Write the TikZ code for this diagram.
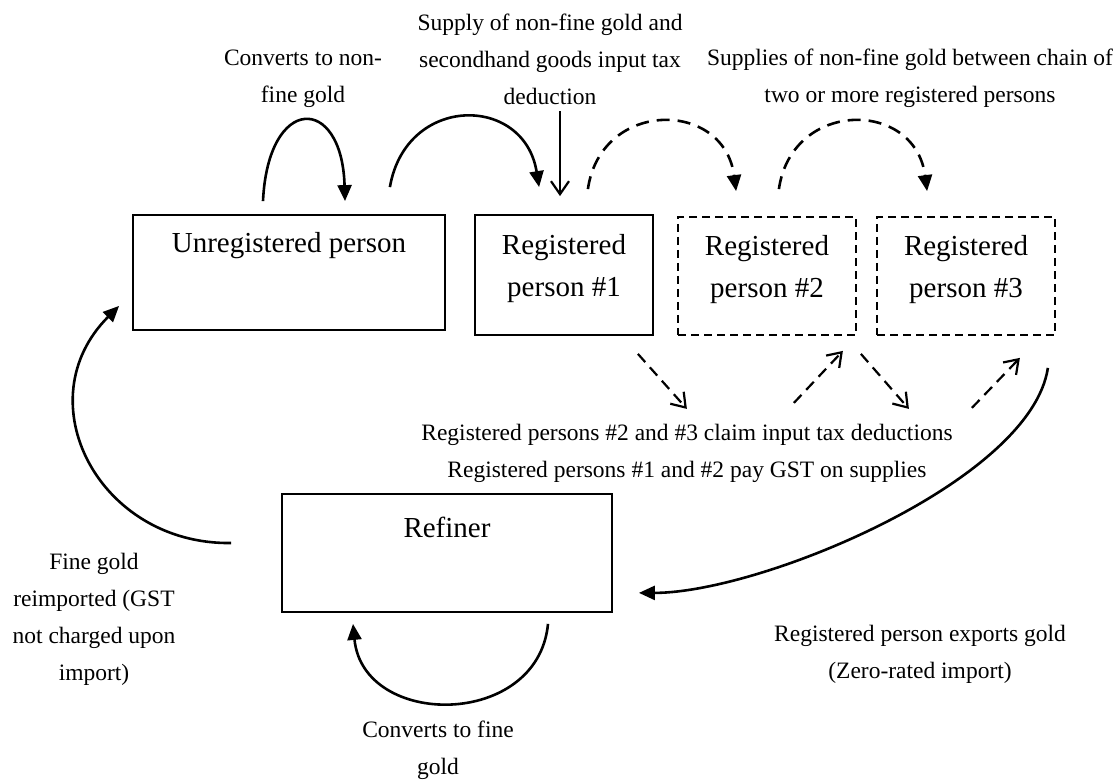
\documentclass[tikz,border=0pt]{standalone}
\usepackage{fontspec}
\setmainfont{Liberation Serif}
\usetikzlibrary{arrows.meta,calc}
\begin{document}
\begin{tikzpicture}[x=1pt,y=-1pt,
  box/.style={draw, line width=1.8pt, inner sep=0pt},
  dbox/.style={box, dash pattern=on 8pt off 5pt},
  lbl/.style={font=\fontsize{29}{42}\selectfont, align=center, anchor=center, inner sep=0pt},
  txt/.style={font=\fontsize{23.5}{37}\selectfont, align=center, inner sep=0pt},
  solidarr/.style={line width=2.6pt, -{Triangle[length=16pt,width=14pt]}},
  dasharr/.style={solidarr, dash pattern=on 13pt off 8pt},
  openarr/.style={line width=2.2pt, -{Straight Barb[length=13pt,width=18pt]}},
  dopenarr/.style={openarr, dash pattern=on 11pt off 7pt}
]
\useasboundingbox (0,0) rectangle (1120,783);

% boxes
\node[box, minimum width=312pt, minimum height=115pt,
  label={[lbl, yshift=-31pt]north:Unregistered person}] (U) at (289,272.5) {};
\node[box, minimum width=178pt, minimum height=120pt,
  label={[lbl, yshift=-54pt]north:Registered\\person \#1}] (R1) at (564,275) {};
\node[dbox, minimum width=178pt, minimum height=118pt,
  label={[lbl, yshift=-53pt]north:Registered\\person \#2}] (R2) at (767,276) {};
\node[dbox, minimum width=178pt, minimum height=118pt,
  label={[lbl, yshift=-53pt]north:Registered\\person \#3}] (R3) at (966,276) {};
\node[box, minimum width=330pt, minimum height=118pt,
  label={[lbl, yshift=-34pt]north:Refiner}] (R) at (447,553) {};

% captions
\node[txt] (c1) at (303,78.5) {Converts to non-\\fine gold};
\node[txt] (c2) at (550,59.5) {Supply of non-fine gold and\\secondhand goods input tax\\deduction};
\node[txt] (c3) at (910,78.5) {Supplies of non-fine gold between chain of\\two or more registered persons};
\node[txt] (c4) at (687,453.5) {Registered persons \#2 and \#3 claim input tax deductions\\Registered persons \#1 and \#2 pay GST on supplies};
\node[txt] (c5) at (94,619.5) {Fine gold\\reimported (GST\\not charged upon\\import)};
\node[txt] (c6) at (920,654.5) {Registered person exports gold\\(Zero-rated import)};
\node[txt] (c7) at (438,750) {Converts to fine\\gold};

% connectors
\draw[solidarr] ($(U.north)+(-26,-13)$) .. controls +(5,-107) and +(-3,-107) .. ($(U.north)+(56,-13)$);
\draw[solidarr] ($(U.north east)+(-56,-27)$) .. controls +(16,-93) and +(-15,-93) .. ($(R1.north west)+(65,-27)$);
\draw[openarr] ($(c2.south)+(10,6)$) -- ($(R1.north)+(-4,-18)$);
\draw[dasharr] ($(R1.north east)+(-66,-25)$) .. controls +(13,-90) and +(-12,-92) .. ($(R2.north west)+(59,-25)$);
\draw[dasharr] ($(R2.north east)+(-78,-27)$) .. controls +(13,-90) and +(-12,-92) .. ($(R3.north west)+(51,-25)$);

\draw[dopenarr] ($(R1.south east)+(-16,18)$) -- ($(R1.south east)+(33,73)$);
\draw[dopenarr] ($(R2.south east)+(-63,67)$) -- ($(R2.south east)+(-14,15)$);
\draw[dopenarr] ($(R2.south east)+(4,18)$) -- ($(R2.south east)+(52,73)$);
\draw[dopenarr] ($(R3.south east)+(-84,72)$) -- ($(R3.south east)+(-36,22)$);

\draw[solidarr] ($(R3.south east)+(-8,32)$) .. controls +(-17,113) and +(122,0) .. ($(R.south east)+(26,-20)$);
\draw[solidarr] ($(R.south)+(101,11)$) .. controls +(-10,105) and +(10,105) .. ($(R.south)+(-94,11)$);
\draw[solidarr] ($(R.west)+(-50,-10)$) .. controls +(-132,2) and +(-95,95) .. ($(U.south west)+(-13,-25)$);
\end{tikzpicture}
\end{document}
